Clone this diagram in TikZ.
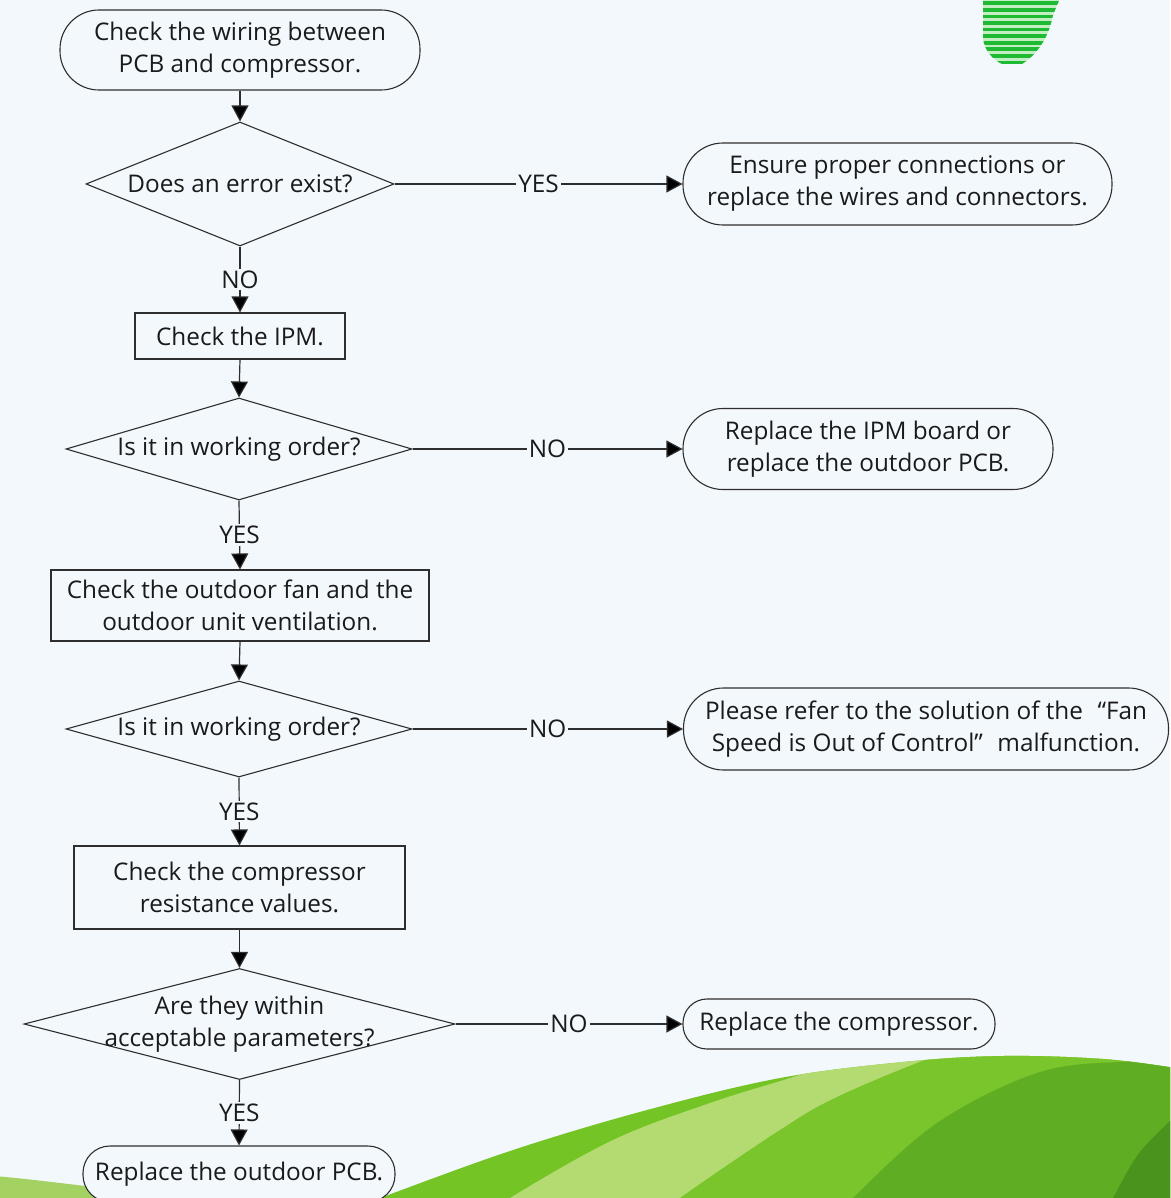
\documentclass[tikz,border=0pt]{standalone}
\usepackage{fontspec}
\setmainfont{Open Sans}
\usetikzlibrary{shapes.geometric,arrows.meta}
\definecolor{bg}{HTML}{F3F8FD}
\definecolor{linec}{HTML}{2E2E2E}
\definecolor{textc}{HTML}{1A1A1A}
\definecolor{hillA}{HTML}{74C425}
\definecolor{hillB}{HTML}{B4DB72}
\definecolor{hillC}{HTML}{7AC52C}
\definecolor{hillD}{HTML}{5EAD22}
\definecolor{hillE}{HTML}{4A931C}
\definecolor{grassL}{HTML}{A3D263}
\definecolor{stripeD}{HTML}{1FBA34}
\definecolor{stripeL}{HTML}{C2EEC2}
\begin{document}
\begin{tikzpicture}[x=1pt,y=-1pt,
  every node/.style={font=\fontsize{24.3}{32}\selectfont, text=textc, align=center},
  term/.style={draw=linec, line width=1.1pt, fill=bg, inner sep=0pt},
  procbox/.style={draw=linec, line width=1.1pt, fill=bg, inner sep=0pt},
  decision/.style={diamond, draw=linec, line width=1.1pt, inner sep=0pt},
  arr/.style={draw=linec, line width=1.2pt, -{Triangle[length=16pt,width=17pt,fill=black]}},
  lbl/.style={fill=bg, inner sep=2pt}]
\useasboundingbox (0,0) rectangle (1170,1198);
\clip (0,0) rectangle (1170,1198);
\fill[bg] (0,0) rectangle (1170,1198);

% striped leaf ornament, top right
\begin{scope}
  \clip (983,-2) -- (983,38) .. controls (984,50) and (993,60) .. (1002,64)
        -- (1022,64) .. controls (1036,55) and (1048,40) .. (1053,15) -- (1060,-2) -- cycle;
  \fill[stripeL] (970,-5) rectangle (1070,70);
  \foreach \k in {0,...,9}
    \fill[stripeD] (970,{1.5+6.56*\k}) rectangle (1070,{5.2+6.56*\k});
\end{scope}

% grass strip, bottom left
\fill[grassL] (-5,1176) .. controls (40,1180) and (120,1190) .. (230,1205) -- (-5,1205) -- cycle;

% rolling hill, bottom right
\path[fill=hillA] plot[smooth,tension=0.6] coordinates
  {(360,1206) (380,1198) (513,1150) (647,1110) (780,1078) (903,1062) (1003,1056) (1103,1059) (1175,1068)}
  -- (1180,1210) -- cycle;
\begin{scope}
  \clip plot[smooth,tension=0.6] coordinates
    {(360,1206) (380,1198) (513,1150) (647,1110) (780,1078) (903,1062) (1003,1056) (1103,1059) (1175,1068)}
    -- (1180,1210) -- cycle;
  \fill[hillB] plot[smooth,tension=0.6] coordinates
    {(505,1206) (510,1198) (613,1140) (713,1102) (790,1078) (850,1058) (920,1040)}
    -- (1200,1000) -- (1200,1250) -- (500,1250) -- cycle;
  \fill[hillC] plot[smooth,tension=0.6] coordinates
    {(675,1206) (680,1198) (780,1130) (837,1097) (930,1058) (1000,1035)}
    -- (1200,1000) -- (1200,1250) -- (670,1250) -- cycle;
  \fill[hillD] plot[smooth,tension=0.6] coordinates
    {(849,1206) (853,1198) (937,1123) (1037,1073) (1120,1062) (1180,1064)}
    -- (1200,1250) -- (845,1250) -- cycle;
  \fill[hillE] plot[smooth,tension=0.6] coordinates
    {(1108,1206) (1113,1198) (1140,1152) (1180,1112)}
    -- (1200,1250) -- (1100,1250) -- cycle;
\end{scope}

% flowchart nodes
\node[term, rounded corners=39pt, minimum width=360pt, minimum height=80pt] (start) at (240,50)
  {Check the wiring between\\PCB and compressor.};
\node[decision, minimum width=308pt, minimum height=124pt,
  label={center:Does an error exist?}] (q1) at (240,184) {};
\node[term, rounded corners=40pt, minimum width=429pt, minimum height=82pt] (fix1) at (897.5,184)
  {Ensure proper connections or\\replace the wires and connectors.};
\node[procbox, minimum width=210pt, minimum height=46pt] (ipm) at (240,336) {Check the IPM.};
\node[decision, minimum width=346pt, minimum height=102pt,
  label={center:Is it in working order?}] (q2) at (239,449) {};
\node[term, rounded corners=40pt, minimum width=370pt, minimum height=81pt] (fix2) at (868,449)
  {Replace the IPM board or\\replace the outdoor PCB.};
\node[procbox, minimum width=378pt, minimum height=71pt] (fan) at (240,605.5)
  {Check the outdoor fan and the\\outdoor unit ventilation.};
\node[decision, minimum width=346pt, minimum height=96pt,
  label={center:Is it in working order?}] (q3) at (239,729) {};
\node[term, rounded corners=40pt, minimum width=485pt, minimum height=82pt] (fix3) at (926,729)
  {Please refer to the solution of the\hspace{0.6em}“Fan\\Speed is Out of Control”\hspace{0.6em}malfunction.};
\node[procbox, minimum width=331pt, minimum height=83pt] (res) at (239.5,887.5)
  {Check the compressor\\resistance values.};
\node[decision, minimum width=431pt, minimum height=111pt,
  label={center:Are they within\\acceptable parameters?}] (q4) at (239.5,1024) {};
\node[term, rounded corners=24pt, minimum width=312pt, minimum height=50pt] (fix4) at (839,1024)
  {Replace the compressor.};
\node[term, rounded corners=27pt, minimum width=312pt, minimum height=56pt] (fix5) at (239,1174)
  {Replace the outdoor PCB.};

% connectors
\draw[arr] (start.south) -- (q1.north);
\draw[arr] (q1.east) -- node[lbl]{YES} (fix1.west);
\draw[arr] (q1.south) -- node[lbl]{NO} (ipm.north);
\draw[arr] (ipm.south) -- (q2.north);
\draw[arr] (q2.east) -- node[lbl]{NO} (fix2.west);
\draw[arr] (q2.south) -- node[lbl]{YES} (fan.north);
\draw[arr] (fan.south) -- (q3.north);
\draw[arr] (q3.east) -- node[lbl]{NO} (fix3.west);
\draw[arr] (q3.south) -- node[lbl]{YES} (res.north);
\draw[arr] (res.south) -- (q4.north);
\draw[arr] (q4.east) -- node[lbl]{NO} (fix4.west);
\draw[arr] (q4.south) -- node[lbl]{YES} (fix5.north);
\end{tikzpicture}
\end{document}
